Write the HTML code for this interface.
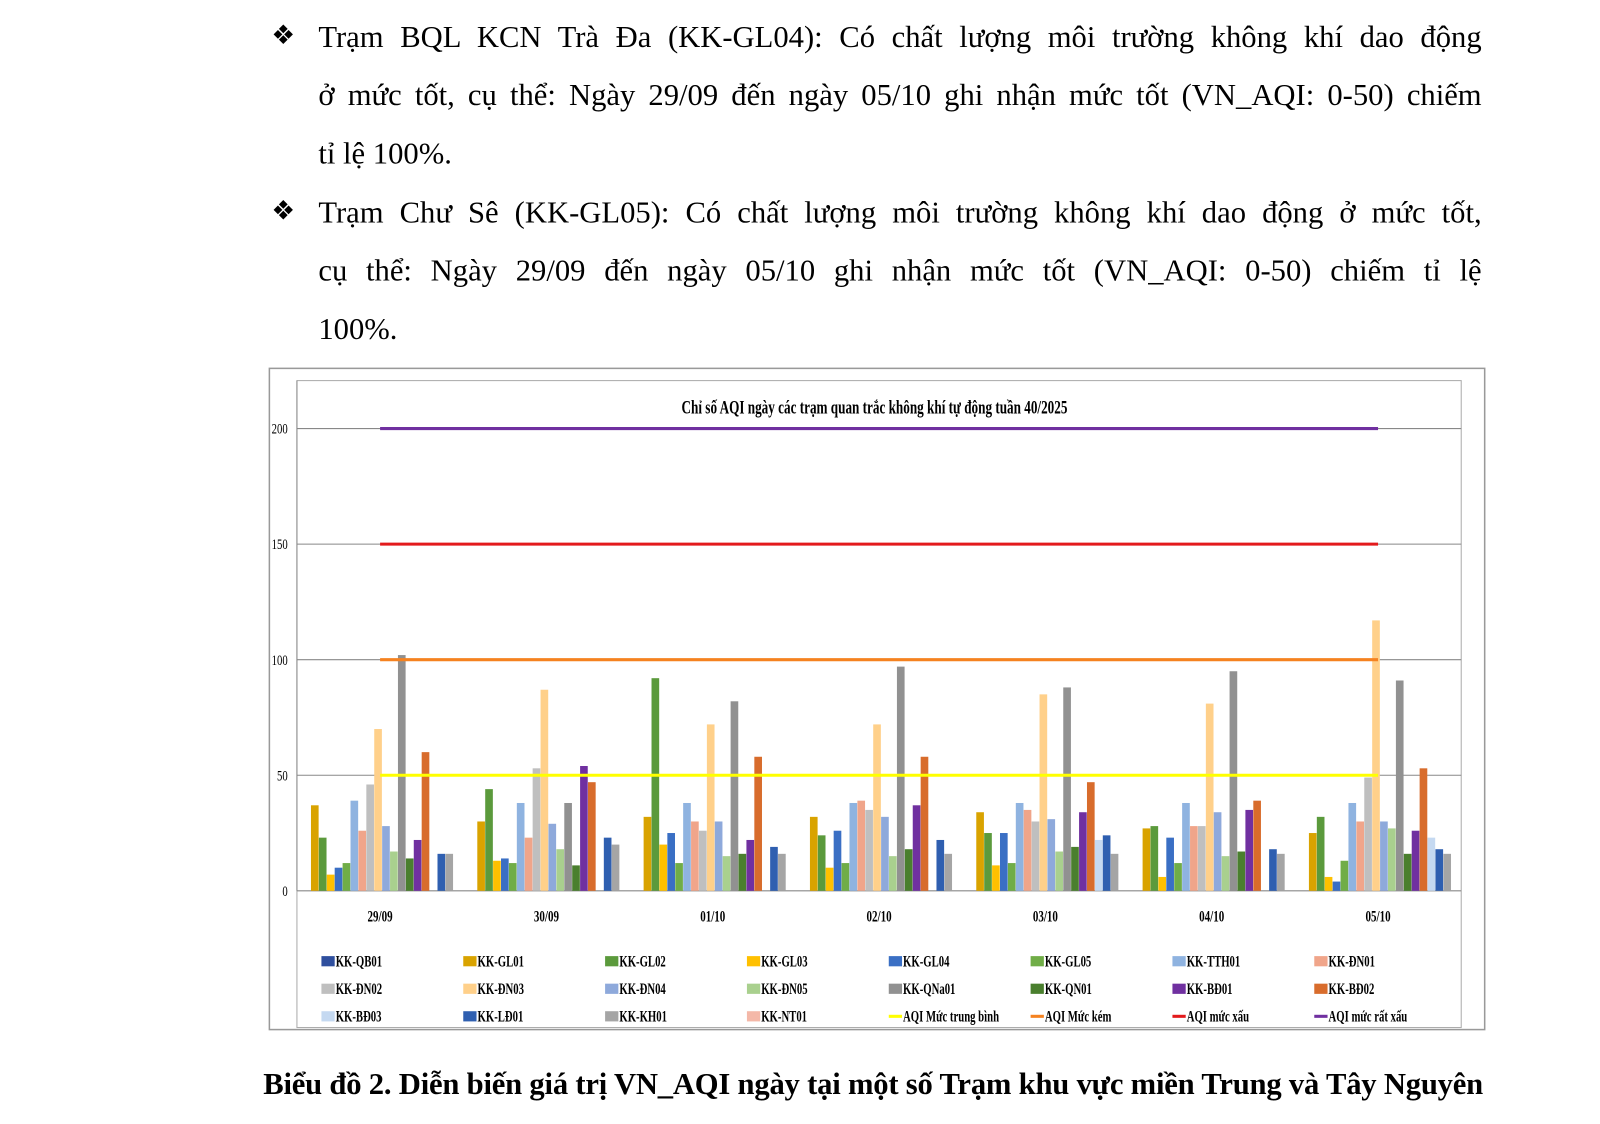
<!DOCTYPE html>
<html><head><meta charset="utf-8">
<style>
html,body{margin:0;background:#fff;width:1600px;height:1124px;overflow:hidden}
#wrap{position:absolute;left:0;top:0;width:1568px;height:1102px;transform:scale(1.0204);transform-origin:0 0;font-family:"Liberation Serif",serif;color:#000}
.ln{position:absolute;left:312px;width:1140px;font-size:30px;line-height:36px;white-space:nowrap}
.j{text-align:justify;text-align-last:justify}
.bul{position:absolute;left:266px;font-size:26px}
#cap{position:absolute;left:258px;top:1046px;width:1194px;font-weight:bold;font-size:30px;white-space:nowrap;letter-spacing:-0.2px}
svg{position:absolute;left:0;top:0}
</style></head><body>
<div id="wrap">
<div class="bul" style="top:20px">❖</div>
<div class="ln j" style="top:19px">Trạm BQL KCN Trà Đa (KK-GL04): Có chất lượng môi trường không khí dao động</div>
<div class="ln j" style="top:76px">ở mức tốt, cụ thể: Ngày 29/09 đến ngày 05/10 ghi nhận mức tốt (VN_AQI: 0-50) chiếm</div>
<div class="ln" style="top:133px">tỉ lệ 100%.</div>
<div class="bul" style="top:192px">❖</div>
<div class="ln j" style="top:191px">Trạm Chư Sê (KK-GL05): Có chất lượng môi trường không khí dao động ở mức tốt,</div>
<div class="ln j" style="top:248px">cụ thể: Ngày 29/09 đến ngày 05/10 ghi nhận mức tốt (VN_AQI: 0-50) chiếm tỉ lệ</div>
<div class="ln" style="top:305px">100%.</div>
<div id="cap">Biểu đồ 2. Diễn biến giá trị VN_AQI ngày tại một số Trạm khu vực miền Trung và Tây Nguyên</div>
<svg id="chart" width="1568" height="1102"></svg>
</div>
<script>
const categories=["29/09","30/09","01/10","02/10","03/10","04/10","05/10"];
const seriesNames=["KK-QB01","KK-GL01","KK-GL02","KK-GL03","KK-GL04","KK-GL05","KK-TTH01","KK-ĐN01","KK-ĐN02","KK-ĐN03","KK-ĐN04","KK-ĐN05","KK-QNa01","KK-QN01","KK-BĐ01","KK-BĐ02","KK-BĐ03","KK-LĐ01","KK-KH01","KK-NT01"];
const seriesColors=["#2f4f9e","#d9a300","#5b9a3c","#ffc000","#3a6fc4","#70ad47","#8fb3e0","#f0a58a","#bfbfbf","#ffd08a","#8ea9db","#a9d08e","#919191","#4a7f2e","#7030a0","#d86c2c","#c5d9f1","#2f5fb0","#a5a5a5","#f4b8a8"];
const v0929=[0,37,23,7,10,12,39,26,46,70,28,17,102,14,22,60,0,16,16,0];
const v0930=[0,30,44,13,14,12,38,23,53,87,29,18,38,11,54,47,0,23,20,0];
const v0110=[0,32,92,20,25,12,38,30,26,72,30,15,82,16,22,58,0,19,16,0];
const v0210=[0,32,24,10,26,12,38,39,35,72,32,15,97,18,37,58,0,22,16,0];
const v0310=[0,34,25,11,25,12,38,35,30,85,31,17,88,19,34,47,22,24,16,0];
const v0410=[0,27,28,6,23,12,38,28,28,81,34,15,95,17,35,39,0,18,16,0];
const v0510=[0,25,32,6,4,13,38,30,49,117,30,27,91,16,26,53,23,18,16,0];
const dayValues=[v0929,v0930,v0110,v0210,v0310,v0410,v0510];
const thresholdNames=["AQI Mức trung bình","AQI Mức kém","AQI mức xấu","AQI mức rất xấu"];
const thresholdValues=[50,100,150,200];
const thresholdColors=["#ffff00","#f58220","#e31a1c","#7030a0"];
const yTicks=[0,50,100,150,200];

const NS="http://www.w3.org/2000/svg";
const svg=document.getElementById('chart');
function mk(t,a,p){const e=document.createElementNS(NS,t);for(const k in a)e.setAttribute(k,a[k]);(p||svg).appendChild(e);return e;}
const X0=291,X1=1432,Y0=873,YS=453/200,GW=(X1-X0)/categories.length;
const y=v=>Y0-v*YS;
const gc=i=>X0+GW*(i+0.5);
const bx=(i,j)=>X0+GW*i+6+j*7.75;

let e=mk('rect',{x:264,y:361,width:1191,height:648,fill:'#fff',stroke:'#999','stroke-width':1.5});

e=mk('rect',{x:X0,y:373,width:X1-X0,height:634,fill:'none',stroke:'#aaa','stroke-width':1});

yTicks.forEach(t=>{
 let g=mk('line',{x1:X0,x2:X1,y1:y(t),y2:y(t),stroke:'#888','stroke-width':1});
 
 let l=mk('text',{x:282,y:y(t)+5,'text-anchor':'end','font-size':14,'font-family':'Liberation Serif',transform:`translate(282 0) scale(0.75 1) translate(-282 0)`});
 l.textContent=t;
});
e=mk('line',{x1:X0,x2:X0,y1:373,y2:Y0,stroke:'#888'});

e=mk('text',{x:857,y:405,'text-anchor':'middle','font-size':19,'font-weight':'bold','font-family':'Liberation Serif',transform:'translate(857 0) scale(0.68 1) translate(-857 0)'});
e.textContent='Chỉ số AQI ngày các trạm quan trắc không khí tự động tuần 40/2025';


dayValues.forEach((vals,i)=>{
 vals.forEach((v,j)=>{
  if(v<=0)return;
  let r=mk('rect',{x:bx(i,j),y:y(v),width:7.5,height:v*YS,fill:seriesColors[j]});
  
  
 });
 let t=mk('text',{x:gc(i),y:903,'text-anchor':'middle','font-size':15,'font-weight':'bold','font-family':'Liberation Serif',transform:`translate(${gc(i)} 0) scale(0.72 1) translate(${-gc(i)} 0)`});
 t.textContent=categories[i];
});
thresholdValues.forEach((v,k)=>{
 let l=mk('line',{x1:gc(0),x2:gc(categories.length-1),y1:y(v),y2:y(v),stroke:thresholdColors[k],'stroke-width':3});
 
});
const legendItems=seriesNames.map((n,j)=>({n,c:seriesColors[j],line:false})).concat(thresholdNames.map((n,k)=>({n,c:thresholdColors[k],line:true})));
legendItems.forEach((it,k)=>{
 const col=k%8,row=Math.floor(k/8);
 const lx=315+col*139,ly=942+row*27;
 let m=it.line?mk('rect',{x:lx,y:ly-1.5,width:13,height:3,fill:it.c}):mk('rect',{x:lx,y:ly-5,width:13,height:10,fill:it.c});
 
 let t=mk('text',{x:lx+14,y:ly+5,'font-size':15,'font-weight':'bold','font-family':'Liberation Serif',transform:`translate(${lx+14} 0) scale(0.7 1) translate(${-(lx+14)} 0)`});
 t.textContent=it.n;
});
</script>
</body></html>
